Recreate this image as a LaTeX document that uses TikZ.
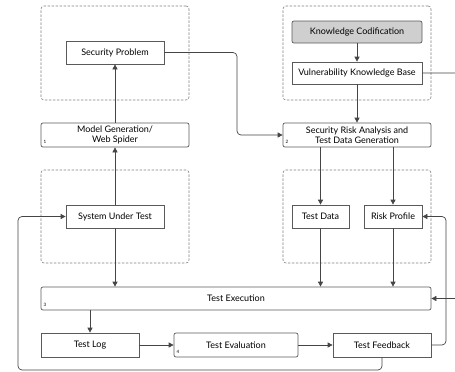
\documentclass[tikz,border=0pt]{standalone}
\usepackage{fontspec}
\setmainfont{Lato}
\usepackage{tikz}
\usetikzlibrary{arrows.meta}
\definecolor{linegray}{HTML}{454545}
\definecolor{boxgray}{HTML}{5a5a5a}
\definecolor{dashgray}{HTML}{808080}
\definecolor{codfill}{HTML}{cfcfcf}

\begin{document}
\begin{tikzpicture}[x=1pt,y=-1pt,
  font=\fontsize{9}{10.5}\selectfont,
  box/.style={draw=boxgray, line width=0.7pt, inner sep=1pt, align=center},
  rbox/.style={box, rounded corners=2pt},
  group/.style={draw=dashgray, dash pattern=on 2.5pt off 1.5pt, line width=0.6pt, rounded corners=3pt},
  numlbl/.style={font=\fontsize{4.5}{4.5}\selectfont, inner sep=0pt},
  arr/.style={draw=linegray, line width=0.7pt, -{Triangle[length=5pt,width=5pt]}},
  con/.style={draw=linegray, line width=0.7pt, rounded corners=4pt}]
  \useasboundingbox (0,0) rectangle (455,372);
  \clip (0,0) rectangle (455,372);

  % dashed groups
  \node (grpa) [group, minimum width=148pt, minimum height=94pt] at (115,53) {};
  \node (grpb) [group, minimum width=148pt, minimum height=94pt] at (357,53) {};
  \node (grpc) [group, minimum width=148pt, minimum height=93pt] at (115,216.5) {};
  \node (grpd) [group, minimum width=148pt, minimum height=93pt] at (357,216.5) {};

  % top row
  \node (secprob) [box, minimum width=98pt, minimum height=23pt] at (115,52.5) {Security Problem};
  \node (knowcod) [rbox, fill=codfill, minimum width=130pt, minimum height=22pt] at (357,32) {Knowledge Codification};
  \node (vkb) [box, minimum width=130pt, minimum height=22pt] at (357,73) {Vulnerability Knowledge Base};

  % steps 1 and 2
  \node (modelgen) [rbox, minimum width=148pt, minimum height=24pt] at (115,135) {Model Generation/\\Web Spider};
  \node (num1) [numlbl] at (45,142) {1};
  \node (sra) [rbox, minimum width=148pt, minimum height=24pt] at (357,135) {Security Risk Analysis and\\Test Data Generation};
  \node (num2) [numlbl] at (287,142) {2};

  % middle row
  \node (sut) [box, minimum width=98pt, minimum height=23pt] at (115,216.5) {System Under Test};
  \node (tdata) [box, minimum width=57pt, minimum height=23pt] at (320.5,216.5) {Test Data};
  \node (riskp) [box, minimum width=58pt, minimum height=23pt] at (393,216.5) {Risk Profile};

  % step 3
  \node (texec) [rbox, minimum width=390pt, minimum height=23pt] at (236,298.5) {Test Execution};
  \node (num3) [numlbl] at (45,305) {3};

  % bottom row
  \node (tlog) [box, minimum width=98pt, minimum height=24pt] at (90,345) {Test Log};
  \node (teval) [rbox, minimum width=124pt, minimum height=24pt] at (236,345) {Test Evaluation};
  \node (num4) [numlbl] at (178,352) {4};
  \node (tfeed) [box, minimum width=98pt, minimum height=24pt] at (382,345) {Test Feedback};

  % bend points
  \coordinate (bendsp) at (237,0);
  \coordinate (redge) at (470,0);
  \coordinate (fbside) at (446,0);
  \coordinate (loopbl) at (18,370);

  % connectors
  \draw[arr] (sut) -- (modelgen);
  \draw[arr] (modelgen) -- (secprob);
  \draw[arr, con] (secprob.east) -| (bendsp |- sra.west) -- (sra.west);
  \draw[arr] (knowcod) -- (vkb);
  \draw[arr] (vkb) -- (sra);
  \draw[arr, con] (vkb.east) -| (redge |- texec.east) -- (texec.east);
  \draw[arr] (sra.south -| tdata.north) -- (tdata.north);
  \draw[arr] (sra.south -| riskp.north) -- (riskp.north);
  \draw[arr] (tdata.south) -- (tdata.south |- texec.north);
  \draw[arr] (riskp.south) -- (riskp.south |- texec.north);
  \draw[arr] (sut.south) -- (sut.south |- texec.north);
  \draw[arr] (texec.south -| tlog.north) -- (tlog.north);
  \draw[arr] (tlog) -- (teval);
  \draw[arr] (teval) -- (tfeed);
  \draw[arr, con] (tfeed.east) -| (fbside |- riskp.east) -- (riskp.east);
  \draw[arr, con] (tfeed.south) |- (loopbl) |- (sut.west);
\end{tikzpicture}
\end{document}
